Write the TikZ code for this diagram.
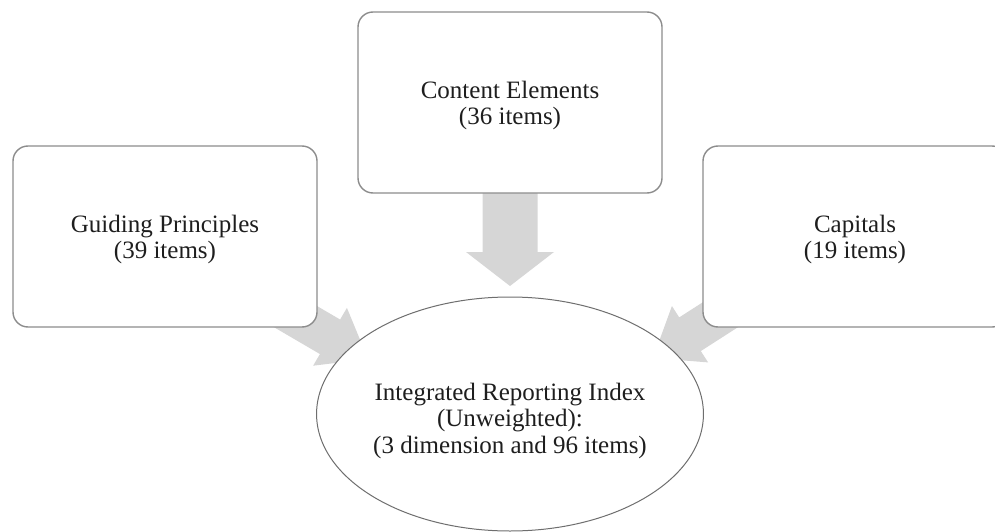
\documentclass[tikz,border=0pt]{standalone}
\usepackage{fontspec}
\setmainfont{Liberation Serif}
\usetikzlibrary{calc,shapes.geometric}

\definecolor{boxline}{HTML}{8C8C8C}
\definecolor{ovalline}{HTML}{6E6E6E}
\definecolor{arrowgray}{HTML}{D6D6D6}
\definecolor{inktext}{HTML}{1E1E1E}

% block arrow: #1 start, #2 tip, #3 half shaft width, #4 half head width, #5 head length
\newcommand\blockarrow[5]{%
  \path ($(#2)!#5!(#1)$) coordinate (ba-base);
  \fill[arrowfill]
    ($(#1)!#3!90:(#2)$) -- ($(ba-base)!#3!90:(#2)$) -- ($(ba-base)!#4!90:(#2)$)
    -- (#2)
    -- ($(ba-base)!#4!-90:(#2)$) -- ($(ba-base)!#3!-90:(#2)$) -- ($(#1)!#3!-90:(#2)$)
    -- cycle;}
% top strut that lowers a centred text block a little
\newcommand\lowtop[1]{\rule{0pt}{#1}}

\begin{document}
\begin{tikzpicture}[x=1pt,y=-1pt,
  arrowfill/.style={fill=arrowgray},
  itembox/.style={draw=boxline, line width=1.4pt, fill=white, rounded corners=15pt,
    minimum width=304pt, minimum height=181pt, inner sep=0pt,
    align=center, text=inktext,
    font=\fontsize{25pt}{26pt}\selectfont},
  indexoval/.style={ellipse, draw=ovalline, line width=1pt, fill=white,
    minimum width=324pt, minimum height=234pt, inner sep=0pt,
    align=center, text=inktext,
    font=\fontsize{25pt}{26.5pt}\selectfont}]
  \useasboundingbox (0,0) rectangle (995,532);

  % arrow anchors
  \coordinate (gp-src) at (250,290);
  \coordinate (gp-tip) at (368,359);
  \coordinate (cp-src) at (762,288);
  \coordinate (cp-tip) at (653,358);
  \coordinate (ce-src) at (510,193);
  \coordinate (ce-tip) at (510,286);

  % block arrows (drawn below the boxes)
  \blockarrow{gp-src}{gp-tip}{20pt}{33.5pt}{44pt}
  \blockarrow{cp-src}{cp-tip}{20pt}{33.5pt}{44pt}
  \blockarrow{ce-src}{ce-tip}{27.5pt}{44pt}{34pt}

  % boxes
  \node[itembox] (gp) at (165,236.5) {\lowtop{24pt}Guiding Principles\\(39 items)};
  \node[itembox] (ce) at (510,102.5) {\lowtop{24pt}Content Elements\\(36 items)};
  \node[itembox] (cp) at (855,236.5) {\lowtop{24pt}Capitals\\(19 items)};

  % central index
  \node[indexoval] (iri) at (510,414)
    {\lowtop{31pt}Integrated Reporting Index\\(Unweighted):\\(3 dimension and 96 items)};
\end{tikzpicture}
\end{document}
